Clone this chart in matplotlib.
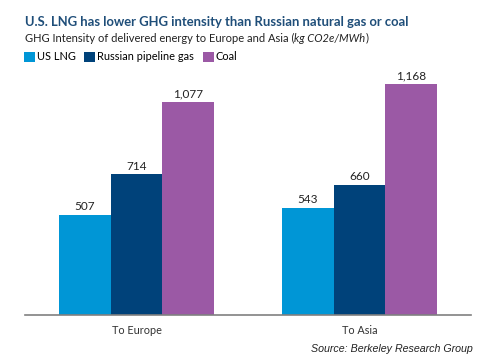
import matplotlib
matplotlib.use("Agg")
import matplotlib.pyplot as plt
import numpy as np
from matplotlib.offsetbox import TextArea, HPacker, AnchoredOffsetbox

categories = ["To Europe", "To Asia"]
series_names = ["US LNG", "Russian pipeline gas", "Coal"]
us_lng = [507, 543]
russian_pipeline = [714, 660]
coal = [1077, 1168]
colors = ["#0096D6", "#00427A", "#9B59A5"]

plt.rcParams['font.family'] = ['Lato', 'DejaVu Sans']

fig = plt.figure(figsize=(4.92, 3.58), dpi=100)
ax = fig.add_axes([25/492, 1-315/358, 446/492, (315-68)/358])

x = np.arange(len(categories))
w = 0.232
series = [us_lng, russian_pipeline, coal]
bars = []
for i, (vals, name, c) in enumerate(zip(series, series_names, colors)):
    b = ax.bar(x + (i-1)*w, vals, width=w, color=c, label=name)
    bars.append(b)
    for rect, v in zip(b, vals):
        ax.text(rect.get_x()+rect.get_width()/2, v + 12, f"{v:,}",
                ha='center', va='bottom', fontsize=8.5, color='#222222')

ax.set_xlim(-0.5, 1.5)
ax.set_ylim(0, 1250)
ax.set_yticks([])
ax.set_xticks(x)
ax.set_xticklabels(categories, fontsize=7.8, color='#333333')
ax.tick_params(axis='x', length=0, pad=7)
for s in ['top', 'right', 'left']:
    ax.spines[s].set_visible(False)
ax.spines['bottom'].set_color('#808080')
ax.spines['bottom'].set_linewidth(1.2)

fig.text(25/492, 1-22/358, "U.S. LNG has lower GHG intensity than Russian natural gas or coal",
         fontsize=9.4, fontweight='bold', color='#1F4E79', va='center', ha='left')

fs = 8.0
p1 = TextArea("GHG Intensity of delivered energy to Europe and Asia (", textprops=dict(fontsize=fs, color='#222222'))
p2 = TextArea("kg CO2e/MWh", textprops=dict(fontsize=fs, color='#222222', style='italic'))
p3 = TextArea(")", textprops=dict(fontsize=fs, color='#222222'))
box = HPacker(children=[p1, p2, p3], align='baseline', pad=0, sep=0)
ab = AnchoredOffsetbox(loc='center left', child=box, pad=0, borderpad=0, frameon=False,
                       bbox_to_anchor=(25/492, 1-38/358), bbox_transform=fig.transFigure)
fig.add_artist(ab)

fig.legend(handles=bars, labels=series_names, loc='center left',
           bbox_to_anchor=(24/492, 1-57/358), ncol=3, frameon=False,
           fontsize=7.9, handlelength=1.0, handleheight=1.0, handletextpad=0.15,
           columnspacing=0.8, borderpad=0, borderaxespad=0)

fig.text(473/492, 1-349/358, "Source: Berkeley Research Group", fontsize=7.7,
         style='italic', family=['Liberation Sans'], color='#222222', ha='right', va='center')

fig.savefig("out.png", dpi=100)
